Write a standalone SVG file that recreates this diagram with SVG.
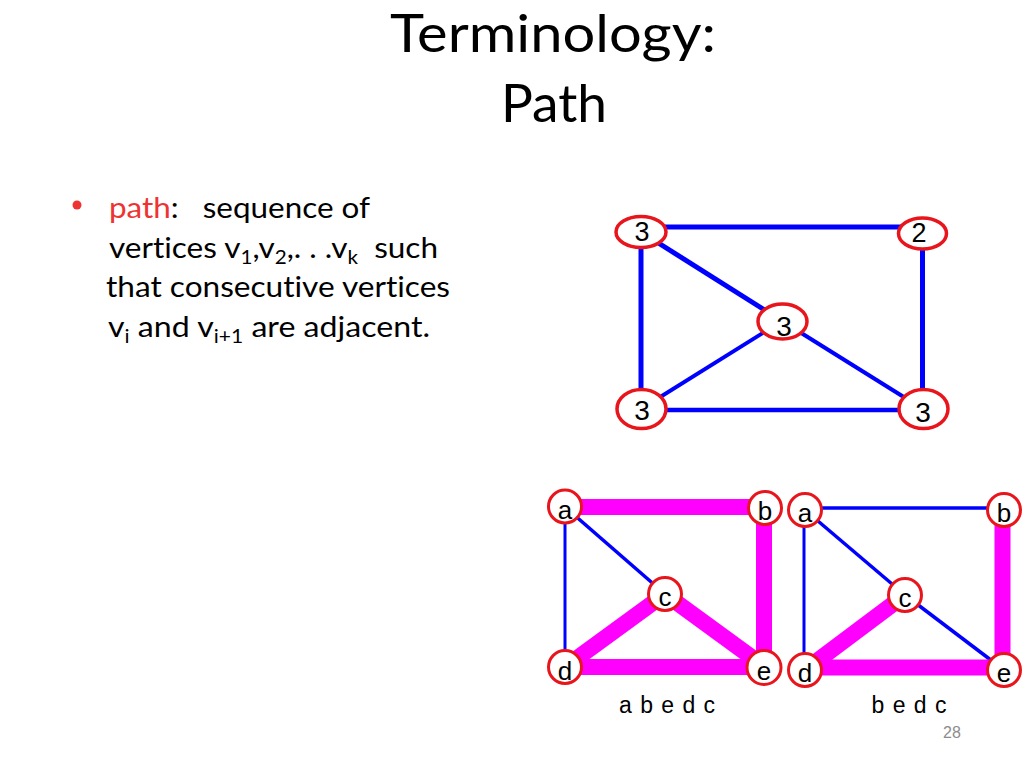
<svg xmlns="http://www.w3.org/2000/svg" width="1024" height="768" viewBox="0 0 1024 768">
<style>
.title{font-family:Lato,"Open Sans","Liberation Sans",sans-serif;font-size:52px;fill:#000;text-anchor:middle;font-variant-ligatures:none}
.body{font-family:Lato,"Open Sans","Liberation Sans",sans-serif;font-size:29px;fill:#000;white-space:pre;font-variant-ligatures:none}
.sub{font-size:19px}
.red{fill:#ee3333}
.nd{fill:#fff;stroke:#e8151c;stroke-width:3.5}
.ndb{fill:#fff;stroke:#e8151c;stroke-width:3}
.lbl{font-family:"Liberation Sans",Arial,sans-serif;fill:#000;text-anchor:middle}
.blue{stroke:#0000ff;fill:none;stroke-linecap:butt}
.mag{stroke:#ff00ff;fill:none;stroke-width:16;stroke-linecap:butt}
</style>
<rect width="1024" height="768" fill="#fff"/>

<g id="title">
<text class="title" x="553" y="52" textLength="326" lengthAdjust="spacingAndGlyphs">Terminology:</text>
<text class="title" x="554" y="122" textLength="106" lengthAdjust="spacingAndGlyphs">Path</text>
</g>

<g id="bullet-text">
<circle cx="77" cy="205" r="4.5" fill="#ee3333"/>
<text class="body" x="109" y="218" xml:space="preserve" textLength="261" lengthAdjust="spacingAndGlyphs"><tspan class="red">path</tspan>:   sequence of</text>
<text class="body" x="109" y="258" xml:space="preserve" textLength="329" lengthAdjust="spacingAndGlyphs">vertices v<tspan class="sub" dy="6">1</tspan><tspan dy="-6">,v</tspan><tspan class="sub" dy="6">2</tspan><tspan dy="-6">,. . .v</tspan><tspan class="sub" dy="6">k</tspan><tspan dy="-6">  such</tspan></text>
<text class="body" x="106" y="297" textLength="344" lengthAdjust="spacingAndGlyphs">that consecutive vertices</text>
<text class="body" x="108" y="337" xml:space="preserve" textLength="322" lengthAdjust="spacingAndGlyphs">v<tspan class="sub" dy="6">i</tspan><tspan dy="-6"> and v</tspan><tspan class="sub" dy="6">i+1</tspan><tspan dy="-6"> are adjacent.</tspan></text>
</g>

<g id="connectors">
<!-- top graph -->
<line class="blue" x1="641" y1="227" x2="922" y2="227" stroke-width="5"/>
<line class="blue" x1="641" y1="232" x2="641" y2="409" stroke-width="5"/>
<line class="blue" x1="922.5" y1="233" x2="922.5" y2="408" stroke-width="5"/>
<line class="blue" x1="641" y1="410" x2="923" y2="410" stroke-width="4.5"/>
<line class="blue" x1="641" y1="232" x2="782" y2="321" stroke-width="5"/>
<line class="blue" x1="782" y1="321" x2="641" y2="409" stroke-width="4"/>
<line class="blue" x1="782" y1="321" x2="923" y2="409" stroke-width="4"/>
<!-- bottom left graph -->
<line class="blue" x1="565" y1="507" x2="565" y2="667" stroke-width="3"/>
<line class="blue" x1="565" y1="507" x2="665" y2="594" stroke-width="3.5"/>
<line class="mag" x1="565" y1="507" x2="765" y2="507"/>
<line class="mag" x1="764" y1="508" x2="764" y2="667" stroke-width="14"/>
<line class="mag" x1="665" y1="594" x2="765" y2="667" stroke-width="14"/>
<line class="mag" x1="665" y1="594" x2="565" y2="667" stroke-width="14"/>
<line class="mag" x1="565" y1="667" x2="765" y2="667" stroke-width="17"/>
<!-- bottom right graph -->
<line class="blue" x1="805" y1="508" x2="1004" y2="508" stroke-width="3.5"/>
<line class="blue" x1="804" y1="510" x2="804" y2="670" stroke-width="3"/>
<line class="blue" x1="805" y1="510" x2="905" y2="595" stroke-width="3.5"/>
<line class="blue" x1="905" y1="595" x2="1004" y2="670" stroke-width="3.5"/>
<line class="mag" x1="1002.5" y1="510" x2="1002.5" y2="670" stroke-width="15"/>
<line class="mag" x1="905" y1="595" x2="805" y2="670" stroke-width="14"/>
<line class="mag" x1="805" y1="667.5" x2="1004" y2="667.5" stroke-width="17"/>
</g>

<g id="n-top-tl"><ellipse class="nd" cx="641" cy="232" rx="25" ry="15.5"/><text class="lbl" x="642" y="241" font-size="27">3</text></g>
<g id="n-top-tr"><ellipse class="nd" cx="922.5" cy="233.5" rx="24" ry="15.5"/><text class="lbl" x="919" y="242" font-size="27">2</text></g>
<g id="n-top-c"><ellipse class="nd" cx="782.5" cy="321.5" rx="24.5" ry="17.5"/><text class="lbl" x="784" y="336" font-size="28">3</text></g>
<g id="n-top-bl"><ellipse class="nd" cx="641.5" cy="409" rx="24.5" ry="19.5"/><text class="lbl" x="642" y="420" font-size="28">3</text></g>
<g id="n-top-br"><ellipse class="nd" cx="923.5" cy="409" rx="24.5" ry="19.5"/><text class="lbl" x="923" y="422" font-size="28">3</text></g>

<g id="n1-a"><circle class="ndb" cx="565" cy="506.5" r="16.5"/><text class="lbl" x="565" y="519" font-size="26">a</text></g>
<g id="n1-b"><circle class="ndb" cx="765" cy="508" r="16.5"/><text class="lbl" x="765" y="520" font-size="26">b</text></g>
<g id="n1-c"><circle class="ndb" cx="665" cy="594" r="16.5"/><text class="lbl" x="665" y="606" font-size="26">c</text></g>
<g id="n1-d"><circle class="ndb" cx="565" cy="667" r="16.5"/><text class="lbl" x="565" y="680" font-size="26">d</text></g>
<g id="n1-e"><circle class="ndb" cx="764" cy="667.5" r="17"/><text class="lbl" x="764" y="680" font-size="26">e</text></g>

<g id="n2-a"><circle class="ndb" cx="805" cy="510" r="16.5"/><text class="lbl" x="805" y="522" font-size="26">a</text></g>
<g id="n2-b"><circle class="ndb" cx="1004" cy="510" r="16.5"/><text class="lbl" x="1004" y="522" font-size="26">b</text></g>
<g id="n2-c"><circle class="ndb" cx="905" cy="595" r="16.5"/><text class="lbl" x="905" y="607" font-size="26">c</text></g>
<g id="n2-d"><circle class="ndb" cx="805" cy="670" r="16.5"/><text class="lbl" x="805" y="682" font-size="26">d</text></g>
<g id="n2-e"><circle class="ndb" cx="1004" cy="670" r="16.5"/><text class="lbl" x="1004" y="682" font-size="26">e</text></g>

<g id="captions">
<text class="lbl" x="667" y="713" font-size="23" textLength="96" lengthAdjust="spacing">a b e d c</text>
<text class="lbl" x="909" y="713" font-size="23" textLength="75" lengthAdjust="spacing">b e d c</text>
<text class="lbl" x="952" y="738" font-size="16" style="fill:#8c8c8c">28</text>
</g>
</svg>
